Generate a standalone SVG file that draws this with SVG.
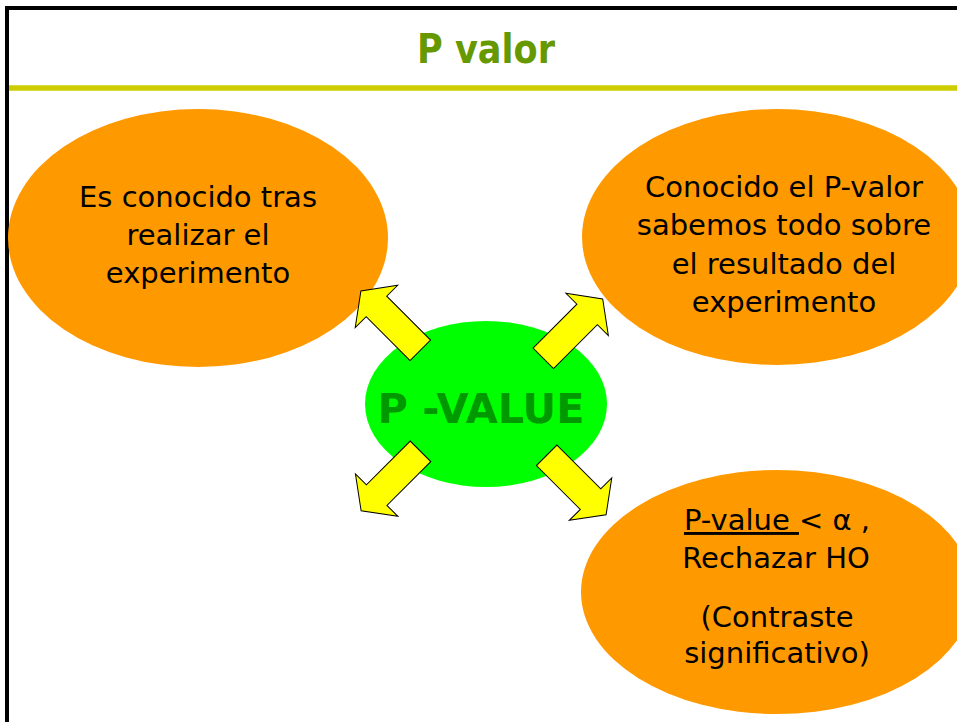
<svg xmlns="http://www.w3.org/2000/svg" xmlns:xlink="http://www.w3.org/1999/xlink" width="957" height="722" viewBox="0 0 957 722">
<style>
.body{font-family:"DejaVu Sans","Liberation Sans",sans-serif;font-size:29px;fill:#000;text-anchor:middle}
.orange{fill:#FF9900}
.arrow{fill:#FFFF00;stroke:#000;stroke-width:1}
</style>
<defs>
<path id="arw" d="M0,-14.5 H62 V-30 L84,0 L62,30 V14.5 H0 Z"/>
</defs>
<rect x="0" y="0" width="957" height="722" fill="#fff"/>
<g id="frame">
<line x1="7" y1="8" x2="957" y2="8" stroke="#000" stroke-width="4"/>
<line x1="7" y1="6" x2="7" y2="722" stroke="#000" stroke-width="4"/>
<line x1="9" y1="88" x2="957" y2="88" stroke="#CCCC00" stroke-width="5.5"/>
<text x="486" y="63" font-family="DejaVu Sans, sans-serif" font-weight="bold" font-size="40" fill="#669900" text-anchor="middle" textLength="138" lengthAdjust="spacingAndGlyphs">P valor</text>
</g>
<g id="node-left">
<ellipse class="orange" cx="198" cy="238" rx="190" ry="129"/>
<text class="body" x="198" y="207">Es conocido tras</text>
<text class="body" x="198" y="245">realizar el</text>
<text class="body" x="198" y="283">experimento</text>
</g>
<g id="node-right-top">
<ellipse class="orange" cx="777" cy="237" rx="195" ry="128"/>
<text class="body" x="784" y="197">Conocido el P-valor</text>
<text class="body" x="784" y="235">sabemos todo sobre</text>
<text class="body" x="784" y="274">el resultado del</text>
<text class="body" x="784" y="312">experimento</text>
</g>
<g id="node-right-bottom">
<ellipse class="orange" cx="777" cy="592" rx="196" ry="122"/>
<text class="body" x="777" y="530"><tspan text-decoration="underline">P-value </tspan>&lt; α ,</text>
<text class="body" x="776" y="568">Rechazar HO</text>
<text class="body" x="777" y="627">(Contraste</text>
<text class="body" x="777" y="663">significativo)</text>
</g>
<g id="node-center">
<ellipse cx="486" cy="404" rx="121" ry="83" fill="#00FF00"/>
<text x="481" y="423" font-family="DejaVu Sans, sans-serif" font-weight="bold" font-size="40" fill="#009900" text-anchor="middle" textLength="207" lengthAdjust="spacingAndGlyphs">P -VALUE</text>
</g>
<g id="connectors">
<use xlink:href="#arw" class="arrow" transform="translate(420.3,350.3) rotate(-135)"/>
<use xlink:href="#arw" class="arrow" transform="translate(543.3,358.3) rotate(-45)"/>
<use xlink:href="#arw" class="arrow" transform="translate(420.5,451.3) rotate(135)"/>
<use xlink:href="#arw" class="arrow" transform="translate(546.7,455.3) rotate(45)"/>
</g>
</svg>
